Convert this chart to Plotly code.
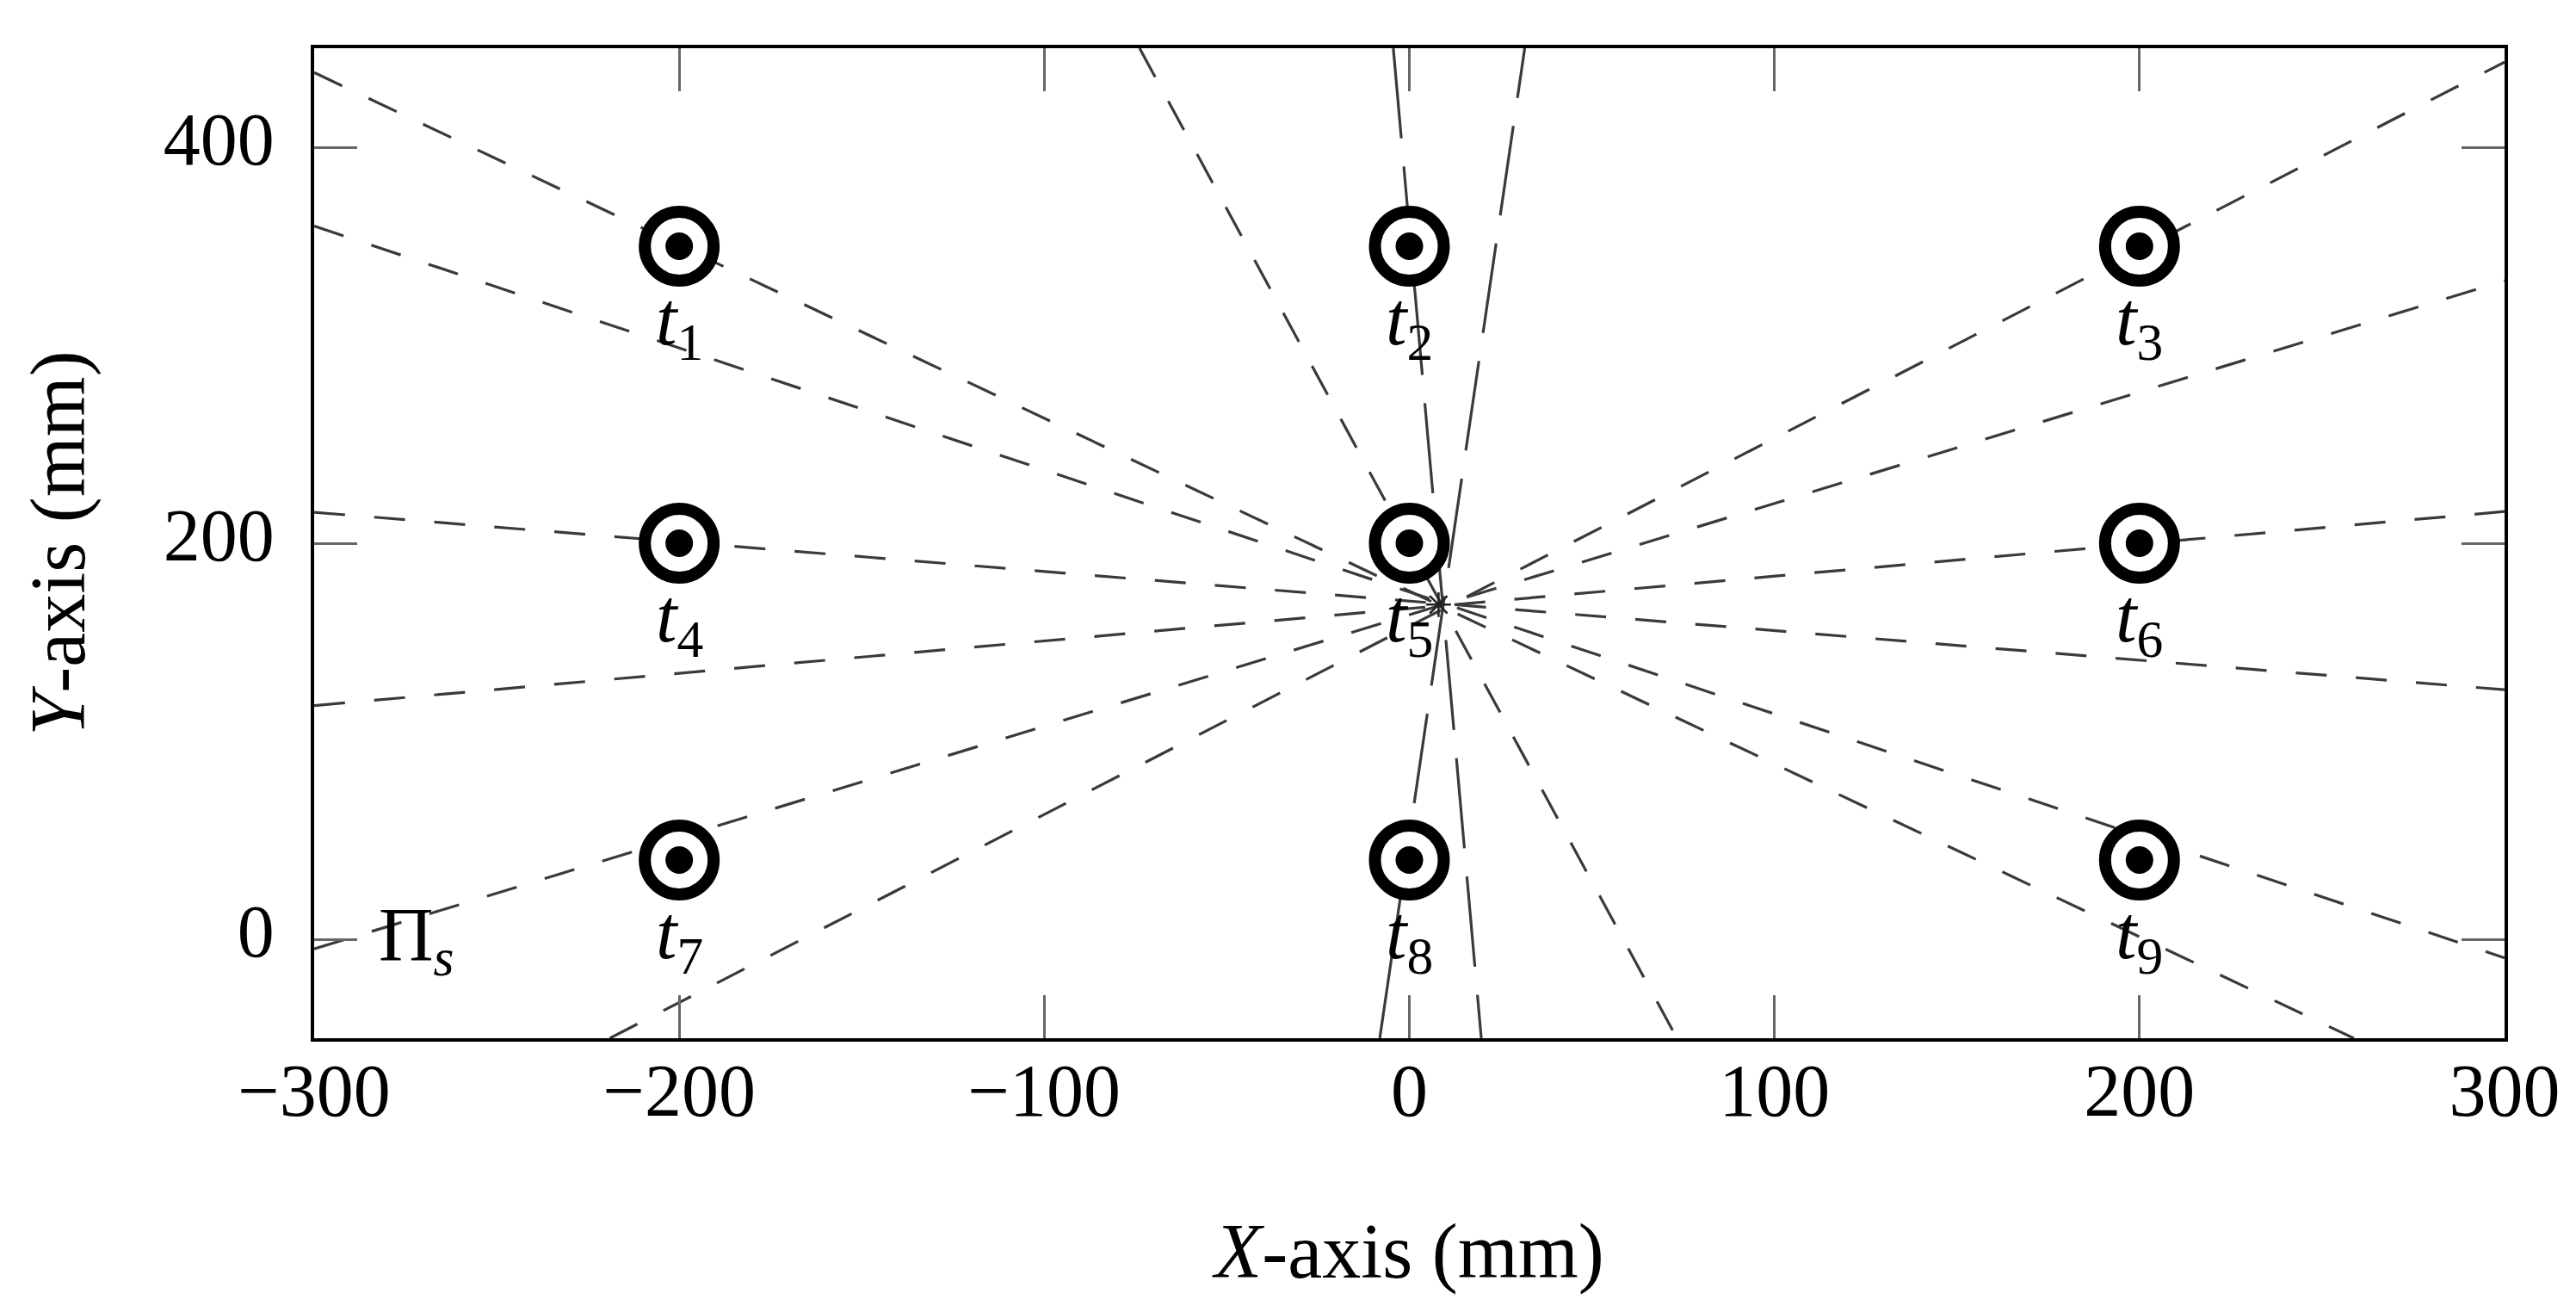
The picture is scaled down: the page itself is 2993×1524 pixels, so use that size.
import plotly.graph_objects as go

# ---- data ----
target_x = [-200, 0, 200, -200, 0, 200, -200, 0, 200]
target_y = [350, 350, 350, 200, 200, 200, 40, 40, 40]
target_names = ["1", "2", "3", "4", "5", "6", "7", "8", "9"]

source_x = [8]
source_y = [169]

# dashed lines: endpoints on the plot frame
line_x0 = [-300, -300, -300, -300, -300, -219, -8.1, -4.4, -73.9]
line_y0 = [437.7, 360.2, 215.6, 118, -4.9, -50, -50, 450, 450]
line_x1 = [258.7, 300, 300, 300, 300, 300, 31.6, 19.7, 73.3]
line_y1 = [-50, -9.4, 126, 216, 332.6, 443, 450, -50, -50]

plane_label_x = [-271]
plane_label_y = [0]

x_ticks = [-300, -200, -100, 0, 100, 200, 300]
y_ticks = [0, 200, 400]

# ---- styles ----
FONT = "Liberation Serif"
dash_styles = ["36px,34px"] * 6 + ["105px,33px", "105px,33px", "38px,32px"]

fig = go.Figure()

for i in range(len(line_x0)):
    fig.add_trace(go.Scatter(
        x=[line_x0[i], line_x1[i]], y=[line_y0[i], line_y1[i]],
        mode="lines",
        line=dict(color="#3a3a3a", width=3.2, dash=dash_styles[i]),
        hoverinfo="skip", showlegend=False))

fig.add_trace(go.Scatter(
    x=source_x, y=source_y, mode="markers",
    marker=dict(symbol="asterisk-open", size=24, color="#222222",
                line=dict(color="#222222", width=2.5)),
    showlegend=False))

fig.add_trace(go.Scatter(
    x=target_x, y=target_y, mode="markers",
    marker=dict(symbol="circle", size=80, color="white", line=dict(color="black", width=14)),
    showlegend=False))
fig.add_trace(go.Scatter(
    x=target_x, y=target_y, mode="markers",
    marker=dict(symbol="circle", size=32, color="black", line=dict(width=0)),
    showlegend=False))

for xv, yv, nm in zip(target_x, target_y, target_names):
    fig.add_annotation(x=xv, y=yv, text=f"<i>t</i><sub>{nm}</sub>",
                       showarrow=False, yshift=-90, xanchor="center", yanchor="middle",
                       font=dict(family=FONT, size=88, color="black"))

fig.add_annotation(x=plane_label_x[0], y=plane_label_y[0], text="Π<sub><i>s</i></sub>",
                   showarrow=False, xanchor="center", yanchor="middle", xshift=-4,
                   font=dict(family=FONT, size=88, color="black"))

axis_common = dict(
    showgrid=False, zeroline=False,
    showline=True, linecolor="black", linewidth=4, mirror="ticks",
    ticks="inside", ticklen=50, tickwidth=2.5, tickcolor="#666666",
    tickfont=dict(family=FONT, size=86, color="black"),
)

fig.update_xaxes(range=[-300, 300], tickvals=x_ticks, ticklabelstandoff=-17, **axis_common,
                 title=dict(text="<i>X</i>-axis (mm)", standoff=108,
                            font=dict(family=FONT, size=90, color="black")))
fig.update_yaxes(range=[-50, 450], tickvals=y_ticks, ticklabelstandoff=25, ticklabelshift=-10,
                 **axis_common,
                 title=dict(text="<i>Y</i>-axis (mm)", standoff=62,
                            font=dict(family=FONT, size=90, color="black")))

fig.update_layout(
    width=2993, height=1524, autosize=False,
    margin=dict(l=357, r=91, t=48, b=326, pad=0),
    plot_bgcolor="white", paper_bgcolor="white",
    showlegend=False,
)

fig.write_html("out.html")
